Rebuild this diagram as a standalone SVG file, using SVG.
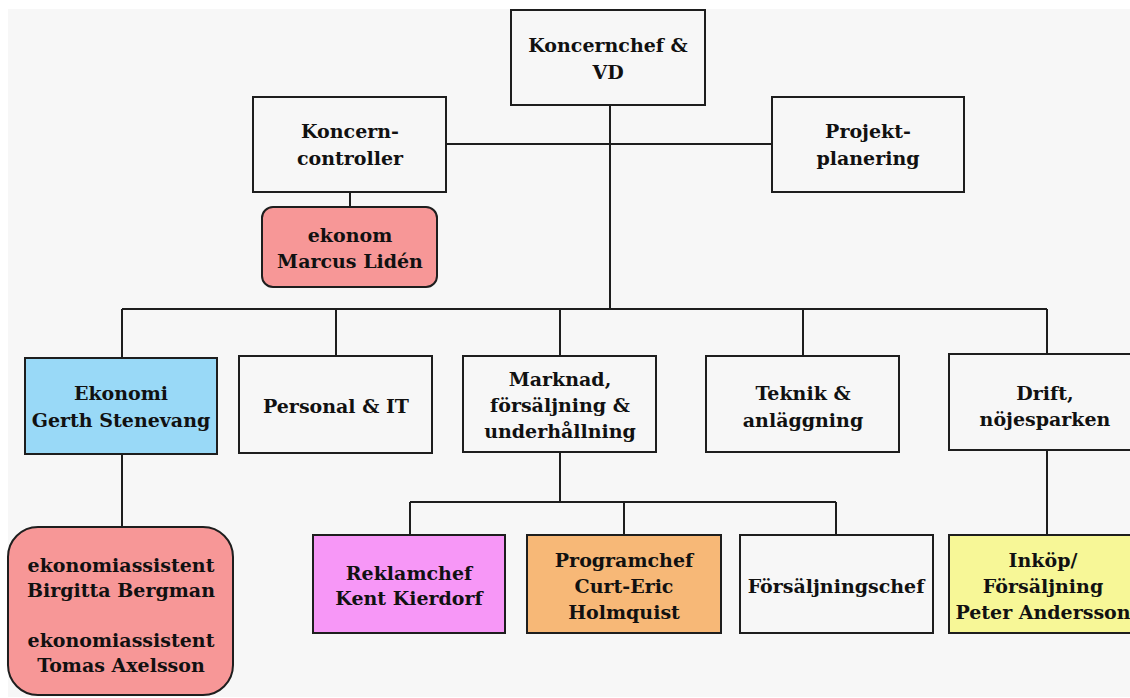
<svg xmlns="http://www.w3.org/2000/svg" width="1130" height="698" viewBox="0 0 1130 698">
  <style>
    .box { stroke: #1e1e1e; stroke-width: 2; fill: #f7f7f7; }
    .pink { fill: #f79797; }
    .blue { fill: #99d9f7; }
    .magenta { fill: #f797f7; }
    .orange { fill: #f7b877; }
    .yellow { fill: #f7f797; }
    .wire { stroke: #1e1e1e; stroke-width: 2; fill: none; }
    text { font-family: "DejaVu Serif", "Liberation Serif", serif; font-weight: bold; font-size: 19px; fill: #111; text-anchor: middle; }
  </style>

  <!-- page -->
  <rect x="0" y="0" width="1130" height="698" fill="#ffffff"/>
  <rect x="8" y="9" width="1122" height="688" fill="#f7f7f7"/>

  <!-- connectors -->
  <g id="connectors" class="wire">
    <path d="M610 105 V309"/>
    <path d="M446 144 H772"/>
    <path d="M350 192 V207"/>
    <path d="M122 309 H1047"/>
    <path d="M122 309 V358"/>
    <path d="M336 309 V356"/>
    <path d="M560 309 V356"/>
    <path d="M803 309 V356"/>
    <path d="M1047 309 V354"/>
    <path d="M122 454 V527"/>
    <path d="M560 452 V502"/>
    <path d="M410 502 H836"/>
    <path d="M410 502 V535"/>
    <path d="M624 502 V535"/>
    <path d="M836 502 V535"/>
    <path d="M1047 450 V535"/>
  </g>

  <g id="ceo">
    <rect class="box" x="511" y="10" width="194" height="95"/>
    <text x="608" y="52">Koncernchef &amp;</text>
    <text x="608" y="79">VD</text>
  </g>

  <g id="controller">
    <rect class="box" x="253" y="97" width="193" height="95"/>
    <text x="350" y="138">Koncern-</text>
    <text x="350" y="165">controller</text>
  </g>

  <g id="projekt">
    <rect class="box" x="772" y="97" width="192" height="95"/>
    <text x="868" y="138">Projekt-</text>
    <text x="868" y="165">planering</text>
  </g>

  <g id="ekonom">
    <rect class="box pink" x="262" y="207" width="175" height="80" rx="11"/>
    <text x="350" y="242">ekonom</text>
    <text x="350" y="268">Marcus Lidén</text>
  </g>

  <g id="ekonomi">
    <rect class="box blue" x="25" y="358" width="192" height="96"/>
    <text x="121" y="400">Ekonomi</text>
    <text x="121" y="427">Gerth Stenevang</text>
  </g>

  <g id="personal">
    <rect class="box" x="239" y="356" width="193" height="97"/>
    <text x="336" y="413">Personal &amp; IT</text>
  </g>

  <g id="marknad">
    <rect class="box" x="463" y="356" width="193" height="96"/>
    <text x="560" y="386">Marknad,</text>
    <text x="560" y="412">försäljning &amp;</text>
    <text x="560" y="438">underhållning</text>
  </g>

  <g id="teknik">
    <rect class="box" x="706" y="356" width="193" height="96"/>
    <text x="803" y="400">Teknik &amp;</text>
    <text x="803" y="427">anläggning</text>
  </g>

  <g id="drift">
    <rect class="box" x="949" y="354" width="200" height="96"/>
    <text x="1045" y="400">Drift,</text>
    <text x="1045" y="426">nöjesparken</text>
  </g>

  <g id="assistenter">
    <rect class="box pink" x="8" y="527" width="225" height="168" rx="30"/>
    <text x="121" y="572">ekonomiassistent</text>
    <text x="121" y="597">Birgitta Bergman</text>
    <text x="121" y="647">ekonomiassistent</text>
    <text x="121" y="672">Tomas Axelsson</text>
  </g>

  <g id="reklam">
    <rect class="box magenta" x="313" y="535" width="192" height="98"/>
    <text x="409" y="580">Reklamchef</text>
    <text x="409" y="605">Kent Kierdorf</text>
  </g>

  <g id="program">
    <rect class="box orange" x="527" y="535" width="194" height="98"/>
    <text x="624" y="567">Programchef</text>
    <text x="624" y="593">Curt-Eric</text>
    <text x="624" y="619">Holmquist</text>
  </g>

  <g id="forsaljning">
    <rect class="box" x="740" y="535" width="193" height="98"/>
    <text x="836" y="593">Försäljningschef</text>
  </g>

  <g id="inkop">
    <rect class="box yellow" x="949" y="535" width="200" height="98"/>
    <text x="1043" y="567">Inköp/</text>
    <text x="1043" y="593">Försäljning</text>
    <text x="1043" y="619">Peter Andersson</text>
  </g>
</svg>
